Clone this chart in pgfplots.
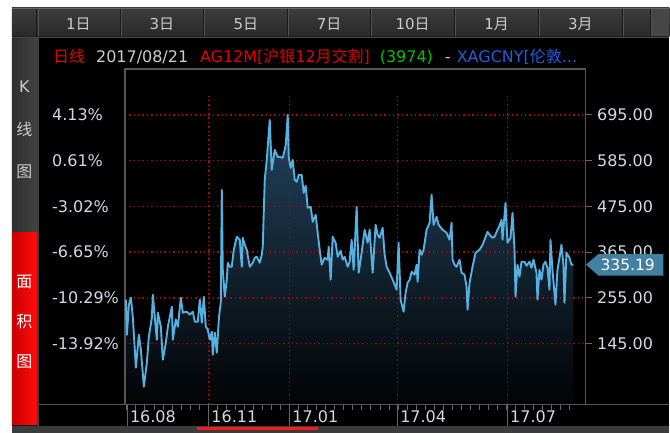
\documentclass[border=0pt]{standalone}
\usepackage{pgfplots}
\pgfplotsset{compat=1.18}
\usepackage{pgfplotstable}
\usepackage{fontspec}
\setmainfont{DejaVu Sans}
\newfontfamily\cjk{Noto Sans CJK SC}

\definecolor{gridred}{HTML}{A00A0A}
\definecolor{axisgray}{HTML}{555555}
\definecolor{tickgray}{HTML}{666666}
\definecolor{labelcol}{HTML}{D2DAE2}
\definecolor{tabtext}{HTML}{CCCCCC}
\definecolor{hdrred}{HTML}{E10000}
\definecolor{hdrgreen}{HTML}{00C000}
\definecolor{hdrblue}{HTML}{1F5EE0}
\definecolor{linecol}{HTML}{55B2E0}
\definecolor{fillTop}{HTML}{234460}
\definecolor{fillBot}{HTML}{020304}
\definecolor{tagcol}{HTML}{427FA0}

\newcommand\uifont{\fontsize{16}{19}\selectfont}

% daily close, x = position on the trading-day axis
\pgfplotstableread{
x y
126 250.7
127 166.6
129 238.7
131 255.5
133 207.5
136 87.4
139 166.6
141 130.6
144 41.7
147 99.4
149 161.8
152 207.5
153 262.7
155 207.5
157 154.6
158 219.5
161 185.8
163 106.6
166 147.4
168 185.8
172 233.9
173 154.6
176 202.7
178 185.8
181 255.5
183 219.5
187 221.9
190 214.7
193 221.9
195 197.8
198 197.8
200 250.7
202 195.4
204 257.9
206 185.8
208 178.6
210 154.6
212 173.8
213 118.6
215 171.4
217 123.4
219 202.7
220 226.7
221 243.5
222 514.9
223 322.7
225 257.9
227 298.7
228 339.5
230 329.9
232 329.9
234 370.8
237 402.0
240 394.8
242 329.9
243 399.6
245 382.8
247 370.8
250 329.9
253 339.5
255 351.6
257 354.0
260 339.5
262 358.8
263 378.0
265 538.9
267 586.9
270 683.0
272 562.9
275 610.9
278 594.1
280 594.1
283 591.7
285 610.9
286 622.9
288 695.0
289 594.1
291 567.7
293 586.9
295 538.9
297 534.1
299 550.9
302 550.9
304 507.7
306 524.5
308 471.6
311 474.0
313 438.0
316 454.8
318 411.6
320 370.8
322 334.7
325 351.6
328 346.8
329 378.0
331 298.7
333 402.0
336 387.6
338 354.0
341 368.4
343 346.8
345 354.0
348 329.9
350 342.0
352 394.8
354 322.7
357 474.0
359 315.5
361 346.8
365 418.8
368 387.6
370 418.8
373 315.5
376 430.8
378 406.8
380 399.6
383 423.6
385 358.8
387 329.9
390 315.5
393 298.7
397 274.7
399 387.6
401 250.7
404 221.9
406 267.5
408 291.5
410 298.7
412 317.9
415 310.7
417 334.7
418 293.9
420 370.8
422 358.8
424 370.8
427 418.8
430 435.6
432 502.9
434 430.8
437 450.0
439 430.8
443 418.8
447 411.6
450 394.8
452 435.6
453 346.8
455 334.7
457 329.9
460 346.8
462 315.5
465 310.7
467 281.9
468 226.7
470 291.5
473 329.9
476 363.6
480 370.8
483 382.8
485 394.8
488 414.0
490 406.8
493 399.6
495 402.0
498 418.8
500 428.4
502 442.8
503 394.8
506 483.7
508 387.6
511 399.6
513 459.6
515 370.8
516 257.9
518 334.7
520 305.9
522 342.0
525 342.0
527 332.3
530 342.0
532 327.5
534 346.8
537 315.5
538 250.7
540 322.7
542 298.7
544 334.7
546 342.0
548 327.5
550 274.7
551 394.8
553 322.7
556 238.7
558 322.7
560 351.6
562 382.8
564 334.7
565 243.5
567 363.6
570 351.6
572 334.7
574 335.19
}\silver

\begin{document}
\begin{tikzpicture}[x=1pt,y=1pt]
% frame of the window
\fill[white] (0,0) rectangle (670,-433);
\fill[black] (12,-37) rectangle (670,-433);
\shade[top color=black!76, bottom color=black!84] (12,-8) rectangle (670,-37);
\draw[black!60, line width=1pt] (12,-8.5) -- (670,-8.5);
\fill[black!72] (651,-9) rectangle (670,-36);
\foreach \s in {37,120.5,204,288,371,455,539,623,651}
  {\draw[black!90, line width=1pt] (\s,-9) -- (\s,-36);
   \draw[black!68, line width=0.8pt] (\s+1,-9) -- (\s+1,-36);}
\fill[black!88] (12,-36) rectangle (670,-37);
\fill[black!72] (12,-37) rectangle (670,-38.5);
\foreach \c/\t in {78.5/1{\cjk 日},162/3{\cjk 日},246/5{\cjk 日},329.5/7{\cjk 日},413/10{\cjk 日},497/1{\cjk 月},581/3{\cjk 月}}
  \node[text=tabtext, font=\fontsize{15}{18}\selectfont, inner sep=0pt] at (\c,-24) {\t};
% side panel
\shade[left color=black!82, right color=black!74] (12,-38.5) rectangle (37,-233);
\shade[left color=red!80!black, right color=red!95] (12,-233) rectangle (37,-425);
\fill[black!76] (37,-38.5) rectangle (39,-426);
\foreach \y/\t in {87/K,130/{\cjk 线},172/{\cjk 图}}
  \node[text=tabtext, font=\uifont, inner sep=0pt] at (24.5,-\y) {\t};
\foreach \y/\t in {282/面,322/积,362/图}
  \node[text=white, font=\uifont\cjk, inner sep=0pt] at (24.5,-\y) {\t};
% bottom strip
\fill[black!77] (12,-426) rectangle (670,-433);
\fill[red!90] (197,-427.5) rectangle (318,-430.5);
\draw[axisgray, line width=1.3pt] (39,-405) -- (670,-405);
% header line
\begin{scope}[every node/.style={anchor=base west, inner sep=0pt, font=\uifont}]
\node[text=hdrred] at (53,-62.5) {\cjk 日线};
\node[text=tabtext] at (96,-62.5) {2017/08/21};
\node[text=hdrred] at (200,-62.5) {AG12M[{\cjk 沪银}12{\cjk 月交割}]};
\node[text=hdrgreen] at (380,-62.5) {(3974)};
\node[text=tabtext] at (445,-62.5) {-};
\node[text=hdrblue] at (457,-62.5) {XAGCNY[{\cjk 伦敦}...};
\end{scope}

\begin{axis}[
  at={(125pt,-405pt)}, anchor=south west,
  scale only axis, width=461pt, height=336pt,
  xmin=125, xmax=586, ymin=-1.5, ymax=805.5,
  axis on top,
  axis line style={draw=axisgray, line width=1.3pt},
  tick pos=left, tick align=outside,
  major tick length=21pt, minor tick length=5pt,
  xtick={127.5,209,290,398,508},
  xticklabels={16.08,16.11,17.01,17.04,17.07},
  minor xtick={127,136.05,...,574},
  x tick style={draw=tickgray, line width=1pt},
  ytick={145,255,365,475,585,695},
  yticklabels={-13.92\%,-10.29\%,-6.65\%,-3.02\%,0.61\%,4.13\%},
  y tick style={draw=none},
  ymajorgrids,
  major grid style={draw=gridred, line width=1.4pt, dash pattern=on 1.4pt off 3pt},
  ticklabel style={font=\uifont, text=labelcol, inner sep=0pt},
  yticklabel style={anchor=west, xshift=-52pt},
  xticklabel style={anchor=north west, xshift=2.5pt, yshift=15pt},
]
\addplot[draw=none, top color=fillTop, bottom color=fillBot] table {\silver} \closedcycle;
% vertical grid lines start below the header
\pgfplotsinvokeforeach{209,290,398,508}{
  \draw[gridred, line width=1.4pt, dash pattern=on 1.4pt off 3pt]
    (axis cs:#1,-1.5) -- (axis cs:#1,748);}
\end{axis}

\begin{axis}[
  at={(125pt,-405pt)}, anchor=south west,
  scale only axis, width=461pt, height=336pt,
  xmin=125, xmax=586, ymin=-1.5, ymax=805.5,
  axis x line=none, axis y line*=right,
  axis line style={draw=axisgray, line width=1.3pt, -},
  tick align=outside, major tick length=7pt,
  ytick={145,255,365,475,585,695},
  yticklabels={145.00,255.00,365.00,475.00,585.00,695.00},
  y tick style={draw=tickgray, line width=1pt},
  ticklabel style={font=\uifont, text=labelcol, inner sep=0pt},
  yticklabel style={anchor=west, xshift=4.5pt},
]
\addplot[linecol, line width=1.9pt, line join=round] table {\silver};
\coordinate (last) at (axis cs:586,335.19);
\end{axis}

% last price tag
\fill[tagcol] (last) ++(0.5,0) -- ++(12.5,10.5) -- ++(65,0) -- ++(0,-21.5) -- ++(-65,0) -- cycle;
\node[anchor=west, inner sep=0pt, text=white, font=\fontsize{15.5}{18}\selectfont] at ([xshift=15pt]last) {335.19};
\end{tikzpicture}
\end{document}
